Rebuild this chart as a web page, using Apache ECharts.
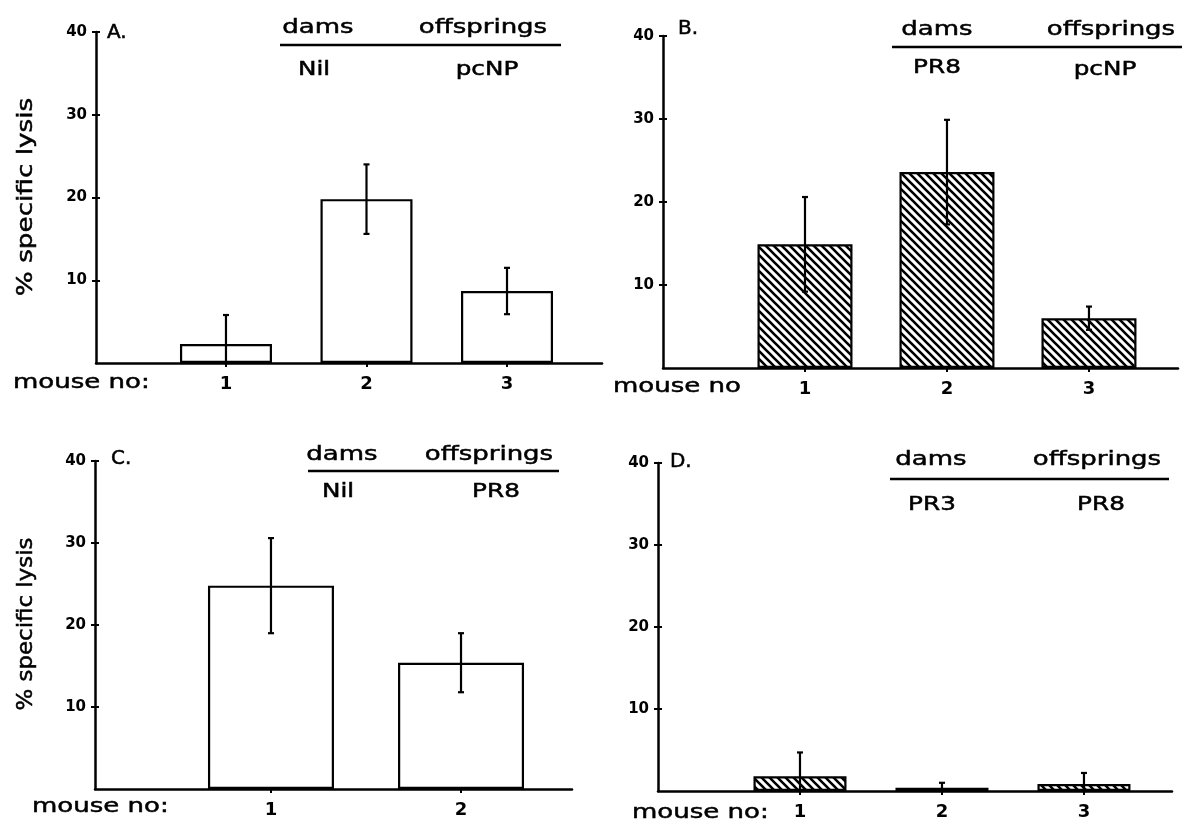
<!DOCTYPE html>
<html>
<head>
<meta charset="utf-8">
<title>% specific lysis</title>
<script src="https://cdn.jsdelivr.net/npm/echarts@6/dist/echarts.min.js"></script>
<style>
html, body { margin: 0; padding: 0; background: #fff; }
#main { width: 1182px; height: 821px; }
</style>
</head>
<body>
<div id="main"></div>
<script>
// mouse numbers in each panel
var miceA = [1, 2, 3];
var miceB = [1, 2, 3];
var miceC = [1, 2];
var miceD = [1, 2, 3];

// % specific lysis (bar heights)
var lysisA = [2.3, 19.8, 8.7];
var lysisB = [14.9, 23.6, 6.0];
var lysisC = [24.8, 15.4];
var lysisD = [1.8, 0.4, 0.85];

// error bars (+/-)
var errA = [3.5, 4.2, 2.8];
var errB = [5.7, 6.3, 1.4];
var errC = [5.8, 3.6];
var errD = [2.9, 0.6, 1.35];

var yTicks = [10, 20, 30, 40];

// panel headers
var letters = ['A.', 'B.', 'C.', 'D.'];
var damsText = ['Nil', 'PR8', 'Nil', 'PR3'];
var offText = ['pcNP', 'pcNP', 'PR8', 'PR8'];
var mouseText = ['mouse no:', 'mouse no', 'mouse no:', 'mouse no:'];

var mice = [miceA, miceB, miceC, miceD];
var lysis = [lysisA, lysisB, lysisC, lysisD];
var errs = [errA, errB, errC, errD];

var FONT = 'DejaVu Sans';
var INK = '#000';

// layout of the 4 panels
var panels = [
  { left: 96, top: 32, width: 506, height: 331, xmin: 0.075, xmax: 3.676, bw: 92, hatched: false,
    letter: [107, 33], dams: [318, 28], off: [483, 28], rule: [280, 561, 45], sub1: [314, 70], sub2: [487, 70],
    mouse: [13, 383], ylab: [27, 197, 1.25] },
  { left: 663, top: 36, width: 515, height: 332, xmin: 0, xmax: 3.627, bw: 95, hatched: true,
    letter: [678, 29], dams: [937, 30], off: [1111, 30], rule: [892, 1182, 47], sub1: [937, 68], sub2: [1105, 70],
    mouse: [613, 387], ylab: null },
  { left: 95, top: 461, width: 477, height: 328, xmin: 0.074, xmax: 2.584, bw: 126, hatched: false,
    letter: [111, 459], dams: [342, 455], off: [489, 455], rule: [308, 559, 471], sub1: [338, 492], sub2: [496, 492],
    mouse: [32, 807], ylab: [27, 624, 1.09] },
  { left: 658, top: 463, width: 514, height: 330, xmin: 0, xmax: 3.62, bw: 93, hatched: true,
    letter: [670, 462], dams: [931, 460], off: [1097, 460], rule: [890, 1169, 479], sub1: [932, 505], sub2: [1101, 505],
    mouse: [632, 813], ylab: null }
];

function hatch() {
  var c = document.createElement('canvas');
  c.width = 8; c.height = 8;
  var g = c.getContext('2d');
  g.fillStyle = '#fff';
  g.fillRect(0, 0, 8, 8);
  g.strokeStyle = '#000';
  g.lineWidth = 2.6;
  g.beginPath();
  g.moveTo(-2, -2); g.lineTo(10, 10);
  g.moveTo(6, -2); g.lineTo(10, 2);
  g.moveTo(-2, 6); g.lineTo(2, 10);
  g.stroke();
  return c;
}
var hatchFill = { image: hatch(), repeat: 'repeat' };

function errorBar(params, api) {
  var x = api.value(0), m = api.value(1), e = api.value(2);
  var top = api.coord([x, m + e]);
  var bot = api.coord([x, Math.max(m - e, 0)]);
  var cap = 3;
  var st = { stroke: '#000', lineWidth: 2.2 };
  return {
    type: 'group',
    children: [
      { type: 'line', shape: { x1: top[0], y1: top[1], x2: bot[0], y2: bot[1] }, style: st },
      { type: 'line', shape: { x1: top[0] - cap, y1: top[1], x2: top[0] + cap, y2: top[1] }, style: st },
      { type: 'line', shape: { x1: bot[0] - cap, y1: bot[1], x2: bot[0] + cap, y2: bot[1] }, style: st }
    ]
  };
}

// text drawn slightly heavier than the regular face, like the scanned lettering
function txt(x, y, s, size, align, scaleX) {
  return {
    type: 'text', x: x, y: y, scaleX: scaleX || 1,
    style: {
      text: s, fill: INK, stroke: INK, lineWidth: 0.5,
      font: size + 'px "' + FONT + '"',
      textAlign: align || 'center', textVerticalAlign: 'middle'
    }
  };
}

var grid = [], xAxis = [], yAxis = [], series = [], graphic = [];
var axisLine = { show: true, lineStyle: { color: '#000', width: 2.5 } };

panels.forEach(function (p, i) {
  grid.push({ left: p.left, top: p.top, width: p.width, height: p.height });

  // main x axis (ticks outward) + overlay for the inner half of the cross ticks
  xAxis.push({
    type: 'value', gridIndex: i, min: p.xmin, max: p.xmax, position: 'bottom',
    axisLine: axisLine, splitLine: { show: false },
    axisTick: { customValues: mice[i], length: 4, lineStyle: { color: '#000', width: 2 } },
    axisLabel: { customValues: mice[i], color: INK, fontFamily: FONT, fontSize: 18, fontWeight: 'bold', margin: 12 }
  });
  xAxis.push({
    type: 'value', gridIndex: i, min: p.xmin, max: p.xmax, position: 'bottom',
    axisLine: { show: false }, splitLine: { show: false }, axisLabel: { show: false },
    axisTick: { customValues: mice[i], inside: true, length: 4, lineStyle: { color: '#000', width: 2 } }
  });

  yAxis.push({
    type: 'value', gridIndex: i, min: 0, max: 40, interval: 10, position: 'left',
    axisLine: axisLine, splitLine: { show: false },
    axisTick: { customValues: yTicks, length: 4, lineStyle: { color: '#000', width: 2 } },
    axisLabel: { customValues: yTicks, color: INK, fontFamily: FONT, fontSize: 15, fontWeight: 'bold', margin: 9 }
  });
  yAxis.push({
    type: 'value', gridIndex: i, min: 0, max: 40, interval: 10, position: 'left',
    axisLine: { show: false }, splitLine: { show: false }, axisLabel: { show: false },
    axisTick: { customValues: yTicks, inside: true, length: 4, lineStyle: { color: '#000', width: 2 } }
  });

  var barData = mice[i].map(function (m, k) { return [m, lysis[i][k]]; });
  var errData = mice[i].map(function (m, k) { return [m, lysis[i][k], errs[i][k]]; });

  series.push({
    type: 'bar', xAxisIndex: 2 * i, yAxisIndex: 2 * i, data: barData, barWidth: p.bw,
    itemStyle: { color: p.hatched ? hatchFill : '#fff', borderColor: '#000', borderWidth: 2.2 },
    silent: true, z: 2
  });
  series.push({
    type: 'custom', xAxisIndex: 2 * i, yAxisIndex: 2 * i, data: errData,
    renderItem: errorBar, silent: true, z: 3
  });

  graphic.push(txt(p.letter[0], p.letter[1], letters[i], 19, 'left', 1.05));
  graphic.push(txt(p.dams[0], p.dams[1], 'dams', 20, 'center', 1.3));
  graphic.push(txt(p.off[0], p.off[1], 'offsprings', 20, 'center', 1.3));
  graphic.push({
    type: 'line', shape: { x1: p.rule[0], y1: p.rule[2], x2: p.rule[1], y2: p.rule[2] },
    style: { stroke: '#000', lineWidth: 2.5 }
  });
  graphic.push(txt(p.sub1[0], p.sub1[1], damsText[i], 19, 'center', 1.3));
  graphic.push(txt(p.sub2[0], p.sub2[1], offText[i], 19, 'center', 1.3));
  graphic.push(txt(p.mouse[0], p.mouse[1], mouseText[i], 20, 'left', 1.3));
  if (p.ylab) {
    var t = txt(p.ylab[0], p.ylab[1], '% specific lysis', 21, 'center', p.ylab[2]);
    t.rotation = Math.PI / 2;
    graphic.push(t);
  }
});

var chart = echarts.init(document.getElementById('main'));
chart.setOption({
  backgroundColor: '#fff',
  animation: false,
  grid: grid,
  xAxis: xAxis,
  yAxis: yAxis,
  series: series,
  graphic: graphic
});
</script>
</body>
</html>
